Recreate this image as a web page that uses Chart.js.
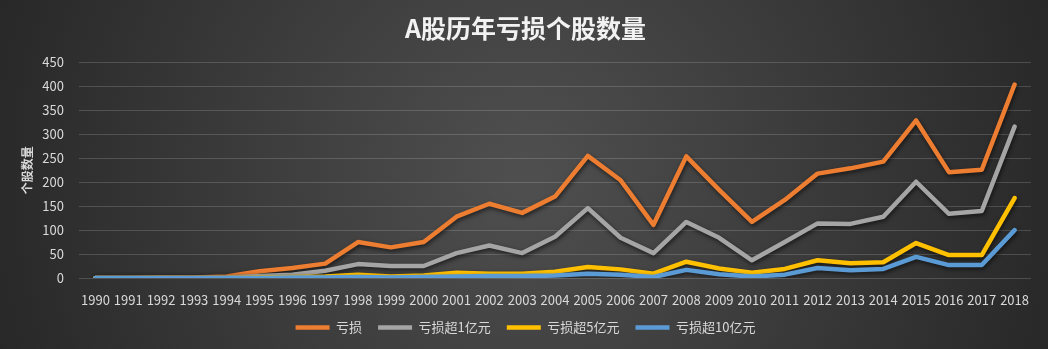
<!DOCTYPE html>
<html>
<head>
<meta charset="utf-8">
<script src="https://cdn.jsdelivr.net/npm/chart.js@4"></script>
<style>
  html, body { margin: 0; padding: 0; background: #2b2b2b; }
  #wrap { width: 1048px; height: 349px; }
</style>
</head>
<body>
<div id="wrap"><canvas id="lossChart" width="1048" height="349"></canvas></div>
<script>
// --- data ---
const years = ["1990","1991","1992","1993","1994","1995","1996","1997","1998","1999",
  "2000","2001","2002","2003","2004","2005","2006","2007","2008","2009",
  "2010","2011","2012","2013","2014","2015","2016","2017","2018"];

const loss      = [0, 0, 1, 1, 3, 14, 21, 30, 75, 64, 75, 128, 155, 136, 170, 255, 204, 111, 254, 184, 117, 163, 218, 229, 243, 329, 221, 226, 404];
const lossOver1 = [0, 0, 0, 0, 1, 4, 7, 15, 29, 25, 25, 52, 68, 52, 86, 146, 84, 52, 117, 84, 37, 75, 114, 113, 128, 201, 134, 140, 316];
const lossOver5 = [0, 0, 0, 0, 0, 1, 2, 3, 7, 3, 5, 11, 9, 9, 13, 23, 18, 9, 34, 20, 11, 19, 37, 31, 33, 73, 48, 48, 167];
const lossOver10 = [0, 0, 0, 0, 0, 0, 1, 1, 2, 1, 2, 3, 4, 4, 5, 9, 7, 2, 17, 8, 3, 7, 21, 16, 19, 44, 27, 27, 100];

const yTicks = [0, 50, 100, 150, 200, 250, 300, 350, 400, 450];

const fontFam = "'Noto Sans CJK SC', 'Noto Sans', sans-serif";

// 背景：中间亮、两边暗
const bgPlugin = {
  id: "bg",
  beforeDraw(chart) {
    const c = chart.ctx;
    const w = chart.width, h = chart.height;
    const g = c.createRadialGradient(w / 2, h / 2, 20, w / 2, h / 2, w * 0.55);
    g.addColorStop(0, "#4e4e4e");
    g.addColorStop(1, "#262626");
    c.save();
    c.fillStyle = g;
    c.fillRect(0, 0, w, h);
    c.restore();
  }
};

// 线条阴影
const shadowPlugin = {
  id: "lineShadow",
  beforeDatasetDraw(chart) {
    const c = chart.ctx;
    c.save();
    c.shadowColor = "rgba(0,0,0,0.6)";
    c.shadowBlur = 4;
    c.shadowOffsetX = 1;
    c.shadowOffsetY = 2;
  },
  afterDatasetDraw(chart) {
    chart.ctx.restore();
  }
};

function series(label, data, color, order) {
  return {
    label: label,
    data: data,
    borderColor: color,
    backgroundColor: color,
    borderWidth: 4.5,
    borderCapStyle: "round",
    borderJoinStyle: "round",
    pointRadius: 0,
    tension: 0,
    order: order
  };
}

const ctx = document.getElementById("lossChart").getContext("2d");

const lossChart = new Chart(ctx, {
  type: "line",
  data: {
    labels: years,
    datasets: [
      series("亏损", loss, "#ED7D31", 3),
      series("亏损超1亿元", lossOver1, "#A5A5A5", 2),
      series("亏损超5亿元", lossOver5, "#FFC000", 1),
      series("亏损超10亿元", lossOver10, "#5B9BD5", 0)
    ]
  },
  plugins: [bgPlugin, shadowPlugin],
  options: {
    responsive: false,
    animation: false,
    layout: { padding: { left: 20, right: 17, top: 0, bottom: 5 } },
    plugins: {
      title: {
        display: true,
        text: "A股历年亏损个股数量",
        color: "#f2f2f2",
        font: { family: fontFam, size: 25, weight: "bold" },
        padding: { top: 13, bottom: 19.5 }
      },
      legend: {
        position: "bottom",
        labels: {
          color: "#d9d9d9",
          font: { family: fontFam, size: 13 },
          usePointStyle: true,
          pointStyle: "line",
          pointStyleWidth: 34,
          boxHeight: 13,
          padding: 16,
          sort: (a, b) => a.datasetIndex - b.datasetIndex
        }
      },
      tooltip: { enabled: false }
    },
    scales: {
      x: {
        offset: true,
        grid: { display: false, drawTicks: false },
        border: { display: false },
        afterFit(scale) {
          scale.height = 27;
        },
        ticks: {
          color: "#d9d9d9",
          font: { family: fontFam, size: 13 },
          maxRotation: 0,
          autoSkip: false,
          padding: 14
        }
      },
      y: {
        min: 0,
        max: 450,
        afterBuildTicks(scale) {
          scale.ticks = yTicks.map(v => ({ value: v }));
        },
        afterFit(scale) {
          scale.width = 59;
        },
        grid: { color: "rgba(255,255,255,0.16)", lineWidth: 1, drawTicks: false },
        border: { display: false },
        ticks: {
          color: "#d9d9d9",
          font: { family: fontFam, size: 13 },
          padding: 15
        },
        title: {
          display: true,
          text: "个股数量",
          color: "#d9d9d9",
          font: { family: fontFam, size: 12, weight: "bold" },
          padding: { top: 0, bottom: 2 }
        }
      }
    }
  }
});
</script>
</body>
</html>
